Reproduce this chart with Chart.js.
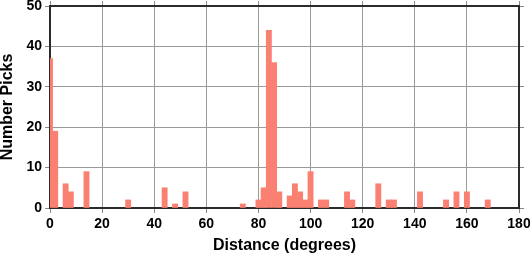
<!DOCTYPE html>
<html>
<head>
<meta charset="utf-8">
<script src="https://cdn.jsdelivr.net/npm/chart.js@4.4.1/dist/chart.umd.min.js"></script>
<style>
  html, body { margin: 0; padding: 0; background: #fff; }
  #wrap { width: 530px; height: 258px; }
</style>
</head>
<body>
<div id="wrap"><canvas id="picks-chart" width="530" height="258"></canvas></div>
<script>
'use strict';

// Histogram bins (degrees, bin centre) and pick counts
const distances = [0, 2, 6, 8, 14, 30, 44, 48, 52, 74, 80, 82, 84, 86, 88, 92, 94, 96, 98, 100,
    104, 106, 114, 116, 126, 130, 132, 142, 152, 156, 160, 168];
const pickCounts = [37, 19, 6, 4, 9, 2, 5, 1, 4, 1, 2, 5, 44, 36, 4, 3, 6, 4, 2, 9,
    2, 2, 4, 2, 6, 2, 2, 4, 2, 4, 4, 2];

const xRange = [0, 180];
const yRange = [0, 50];
const xStep = 20;
const yStep = 10;

const FRAME = '#2b2b2b';
const GRID = '#9a9a9a';
const TICK = '#8a8a8a';
const BAR = '#fa8072';
const tickFont = { family: 'Liberation Sans', size: 14, weight: 'bold' };
const titleFont = { family: 'Liberation Sans', size: 16, weight: 'bold', lineHeight: 1 };

const points = distances.map((d, i) => ({ x: d, y: pickCounts[i] }));

// fixed axis sizes, and no extra room for labels hanging over the ends
function fixSize(scale, size) {
    if (scale.isHorizontal()) scale.height = size; else scale.width = size;
    scale.paddingLeft = 0;
    scale.paddingRight = 0;
    scale.paddingTop = 0;
    scale.paddingBottom = 0;
}

// the frame on top / right only carries tick marks
function frameAxis(position, size) {
    const horizontal = position === 'top';
    return {
        type: 'linear',
        position: position,
        offset: false,
        min: horizontal ? xRange[0] : yRange[0],
        max: horizontal ? xRange[1] : yRange[1],
        ticks: { display: false, stepSize: horizontal ? xStep : yStep },
        grid: { offset: false, drawOnChartArea: false, tickLength: 5, tickColor: TICK },
        border: { color: FRAME, width: 2 },
        afterFit: scale => fixSize(scale, size)
    };
}

const ctx = document.getElementById('picks-chart').getContext('2d');
const picksChart = new Chart(ctx, {
    type: 'bar',
    data: {
        datasets: [{
            label: 'Number Picks',
            data: points,
            backgroundColor: BAR,
            borderWidth: 0,
            barPercentage: 1,
            categoryPercentage: 1
        }]
    },
    options: {
        responsive: false,
        animation: false,
        layout: { padding: 0 },
        plugins: { legend: { display: false }, tooltip: { enabled: false } },
        scales: {
            x: {
                type: 'linear',
                position: 'bottom',
                offset: false,
                min: xRange[0],
                max: xRange[1],
                ticks: { stepSize: xStep, color: '#000', font: tickFont, padding: 3, maxRotation: 0 },
                grid: { offset: false, color: GRID, tickColor: TICK, tickLength: 5, lineWidth: 1 },
                border: { color: FRAME, width: 2 },
                title: { display: true, text: 'Distance (degrees)', color: '#000', font: titleFont, padding: { top: 0, bottom: 4 } },
                afterFit: scale => fixSize(scale, 50)
            },
            y: {
                type: 'linear',
                position: 'left',
                min: yRange[0],
                max: yRange[1],
                ticks: { stepSize: yStep, color: '#000', font: tickFont, padding: 3 },
                grid: { color: GRID, tickColor: TICK, tickLength: 5, lineWidth: 1 },
                border: { color: FRAME, width: 2 },
                title: { display: true, text: 'Number Picks', color: '#000', font: titleFont, padding: { top: 0, bottom: 0 } },
                afterFit: scale => fixSize(scale, 50)
            },
            xTop: frameAxis('top', 6),
            yRight: frameAxis('right', 11)
        }
    }
});
</script>
</body>
</html>
